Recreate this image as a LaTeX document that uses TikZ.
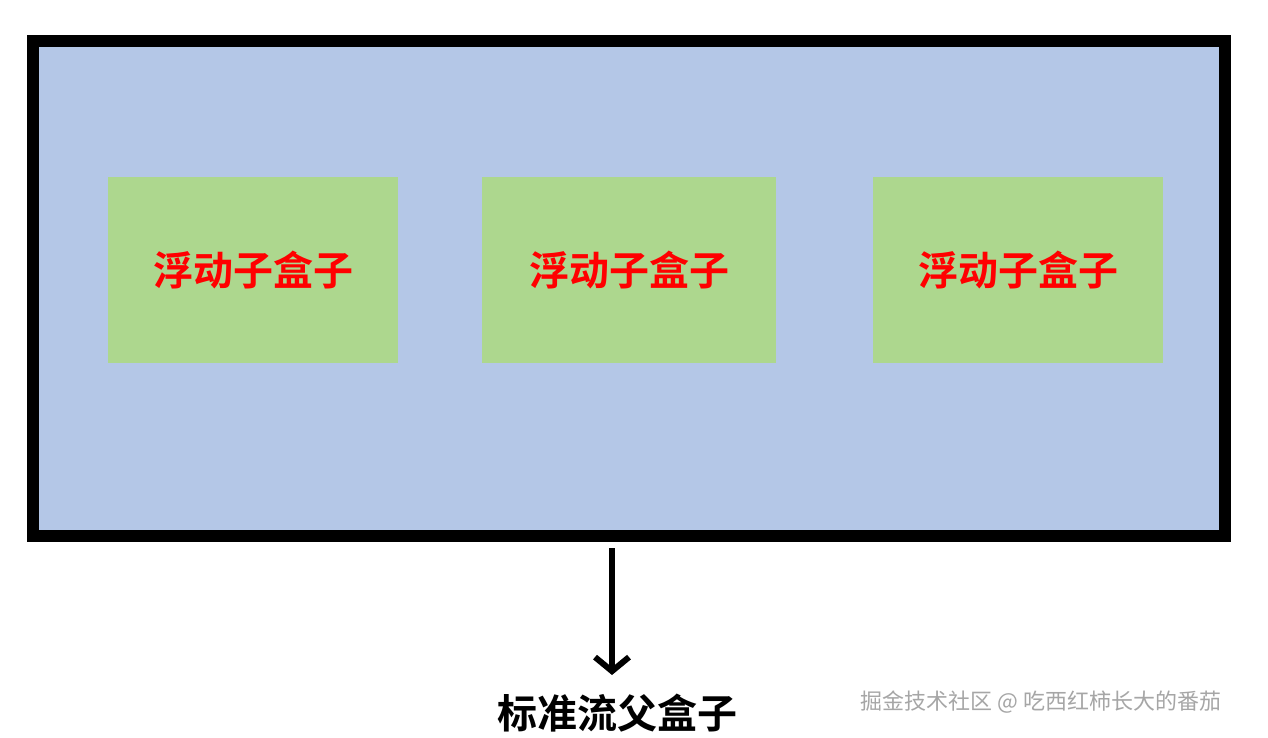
\documentclass[tikz,border=0pt]{standalone}
\usepackage{fontspec}
\newfontfamily\cjk{Noto Sans CJK SC}
\newfontfamily\cjkb{Noto Sans CJK SC Bold}
\usetikzlibrary{arrows.meta}
\definecolor{bluebg}{HTML}{B4C7E7}
\definecolor{greenbox}{HTML}{ADD78E}
\tikzset{
 child/.style={fill=greenbox,draw=none,minimum width=290pt,minimum height=186pt,inner sep=0pt,
   font=\cjkb\fontsize{40}{44}\selectfont,text=red},
}
\begin{document}
\begin{tikzpicture}[x=1pt,y=-1pt]
\useasboundingbox (0,0) rectangle (1268,738);
\fill[white] (0,0) rectangle (1268,738);
\node[draw=black,line width=12pt,fill=bluebg,minimum width=1192pt,minimum height=495pt,inner sep=0pt] (parent) at (629,288.5) {};
\node[child] (c1) at (253,270) {浮动子盒子};
\node[child,minimum width=294pt] (c2) at (629,270) {浮动子盒子};
\node[child] (c3) at (1018,270) {\raisebox{-7pt}{浮动子盒子}};
\node[font=\cjkb\fontsize{40}{44}\selectfont,text=black] (lbl) at (617,713) {标准流父盒子};
\coordinate (tip) at (612,675);
\draw[line width=6pt,-{Straight Barb[length=14pt,width=34pt,line width=6pt]}] (612,548) -- (tip);
\node[font=\cjk\fontsize{22}{24}\selectfont,text=gray!70] (wm) at (1041,702) {掘金技术社区 @ 吃西红柿长大的番茄};
\end{tikzpicture}
\end{document}
